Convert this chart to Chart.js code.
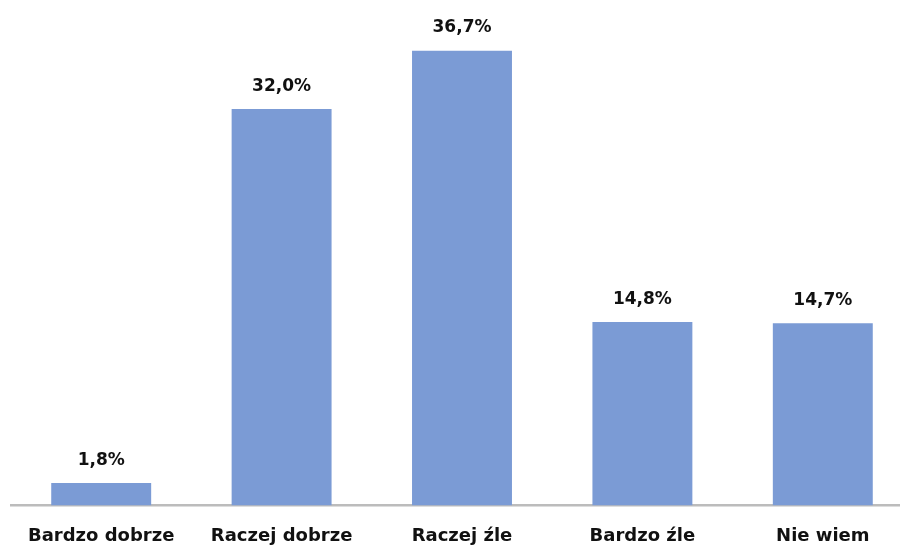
<!DOCTYPE html>
<html>
<head>
<meta charset="utf-8">
<script src="https://cdn.jsdelivr.net/npm/chart.js@4"></script>
<style>
  html, body { margin: 0; padding: 0; background: #fff; overflow: hidden; }
  #wrap { width: 913px; height: 546px; }
</style>
</head>
<body>
<div id="wrap"><canvas id="barChart" width="913" height="546"></canvas></div>
<script>
// Categories and values (percent)
const categories = ['Bardzo dobrze', 'Raczej dobrze', 'Raczej źle', 'Bardzo źle', 'Nie wiem'];
const values = [1.8, 32.0, 36.7, 14.8, 14.7];
const valueLabels = ['1,8%', '32,0%', '36,7%', '14,8%', '14,7%'];

const fontFamily = "'DejaVu Sans', sans-serif";

// Simple plugin to draw the value above each bar
const valueLabelPlugin = {
    id: 'valueLabels',
    afterDatasetsDraw(chart) {
        const ctx = chart.ctx;
        const meta = chart.getDatasetMeta(0);
        ctx.save();
        ctx.font = 'bold 17px ' + fontFamily;
        ctx.fillStyle = '#111';
        ctx.textAlign = 'center';
        ctx.textBaseline = 'middle';
        meta.data.forEach((bar, i) => {
            ctx.fillText(valueLabels[i], bar.x, bar.y - 23);
        });
        ctx.restore();
    }
};

const barChartConfig = {
    type: 'bar',
    data: {
        labels: categories,
        datasets: [{
            data: values,
            backgroundColor: '#7b9bd5',
            borderWidth: 0,
            barPercentage: 0.554,
            categoryPercentage: 1.0
        }]
    },
    options: {
        responsive: false,
        animation: false,
        layout: { padding: { left: 11, right: 0, top: 10, bottom: -21 } },
        plugins: {
            legend: { display: false },
            tooltip: { enabled: false }
        },
        scales: {
            x: {
                grid: { display: false, drawTicks: false },
                border: { display: true, color: '#bcbcbc', width: 2.5 },
                ticks: {
                    padding: 20,
                    color: '#111',
                    maxRotation: 0,
                    font: { family: fontFamily, size: 18, weight: 'bold' }
                }
            },
            y: {
                display: false,
                min: 0,
                max: 40
            }
        }
    },
    plugins: [valueLabelPlugin]
};

const barChart = new Chart(document.getElementById('barChart'), barChartConfig);
</script>
</body>
</html>
